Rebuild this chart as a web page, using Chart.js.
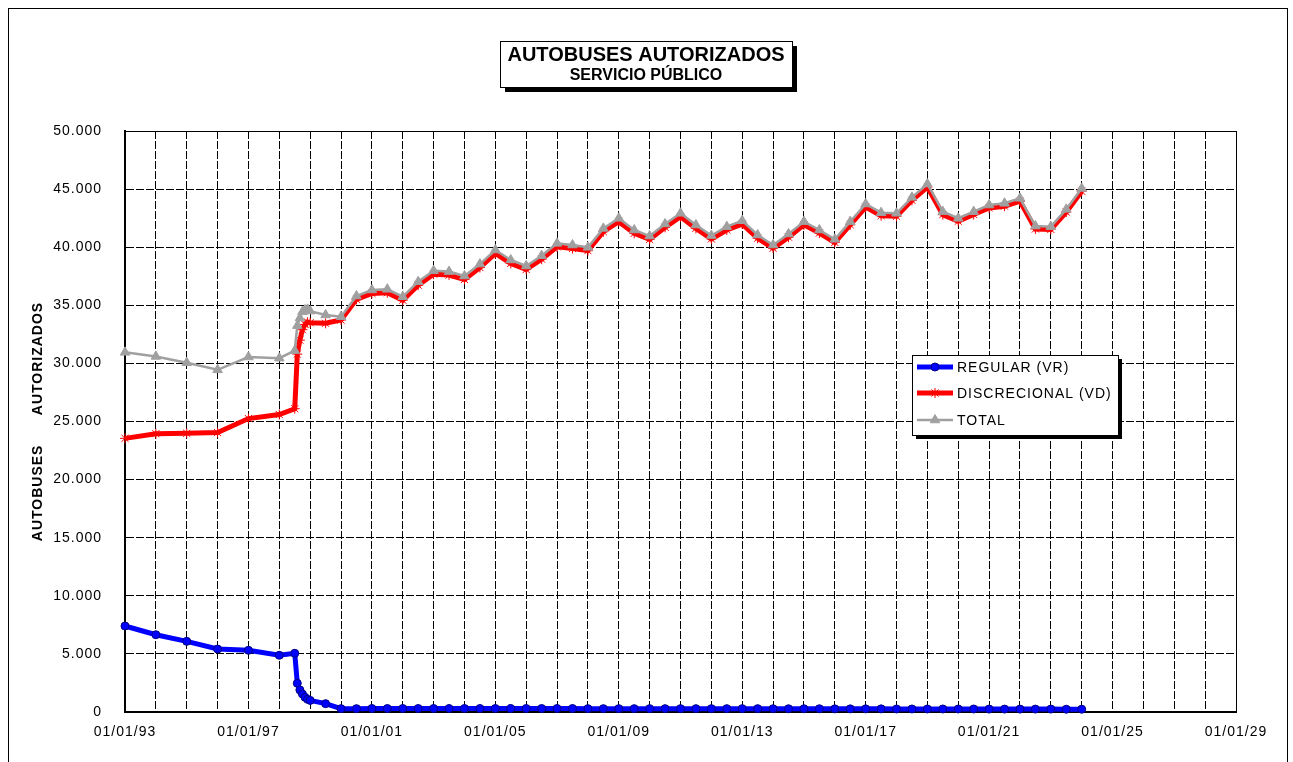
<!DOCTYPE html>
<html>
<head>
<meta charset="utf-8">
<title>Autobuses autorizados - servicio público</title>
<script src="https://cdn.jsdelivr.net/npm/chart.js"></script>
<style>
  body { margin: 0; background: #fff; }
  #wrap { width: 1293px; height: 762px; }
</style>
</head>
<body>
<div id="wrap"><canvas id="autobuses-chart" width="1293" height="762"></canvas></div>
<script>
// fechas de cada dato (dd/mm/aa)
var fechas = [
  "01/01/93", "01/01/94", "01/01/95", "01/01/96", "01/01/97", "01/01/98",
  "01/07/98", "01/08/98", "01/09/98", "01/10/98", "01/11/98", "01/12/98",
  "01/01/99", "01/07/99", "01/01/00", "01/07/00", "01/01/01", "01/07/01",
  "01/01/02", "01/07/02", "01/01/03", "01/07/03", "01/01/04", "01/07/04",
  "01/01/05", "01/07/05", "01/01/06", "01/07/06", "01/01/07", "01/07/07",
  "01/01/08", "01/07/08", "01/01/09", "01/07/09", "01/01/10", "01/07/10",
  "01/01/11", "01/07/11", "01/01/12", "01/07/12", "01/01/13", "01/07/13",
  "01/01/14", "01/07/14", "01/01/15", "01/07/15", "01/01/16", "01/07/16",
  "01/01/17", "01/07/17", "01/01/18", "01/07/18", "01/01/19", "01/07/19",
  "01/01/20", "01/07/20", "01/01/21", "01/07/21", "01/01/22", "01/07/22",
  "01/01/23", "01/07/23", "01/01/24"
];

var regular = [
  7400, 6650, 6080, 5420, 5310, 4880,
  5050, 2470, 1900, 1550, 1260, 1090,
  1000, 720, 290, 290, 300, 300,
  300, 300, 300, 300, 300, 300,
  300, 300, 300, 300, 300, 300,
  290, 290, 290, 290, 290, 290,
  290, 290, 290, 290, 290, 290,
  280, 280, 280, 280, 270, 270,
  270, 270, 260, 260, 260, 260,
  260, 260, 250, 250, 250, 250,
  250, 240, 240
];

var discrecional = [
  23550, 23950, 23980, 24050, 25250, 25600,
  26100, 30800, 32000, 32900, 33350, 33550,
  33500, 33450, 33730, 35510, 36020, 36080,
  35440, 36730, 37680, 37600, 37220, 38250,
  39460, 38600, 38080, 38970, 40030, 39890,
  39700, 41330, 42200, 41190, 40670, 41710,
  42630, 41620, 40710, 41480, 41990, 40770,
  39910, 40860, 41920, 41210, 40410, 41930,
  43450, 42710, 42660, 44030, 45180, 42800,
  42230, 42810, 43380, 43530, 43960, 41570,
  41530, 43020, 44820
];

var total = [
  30950, 30600, 30060, 29450, 30550, 30450,
  31100, 33250, 33900, 34450, 34600, 34650,
  34500, 34170, 34020, 35800, 36320, 36380,
  35740, 37030, 37980, 37900, 37520, 38550,
  39760, 38900, 38380, 39270, 40330, 40190,
  39990, 41620, 42490, 41480, 40960, 42000,
  42920, 41910, 41000, 41770, 42280, 41050,
  40190, 41140, 42200, 41480, 40680, 42200,
  43720, 42970, 42920, 44290, 45440, 43060,
  42490, 43060, 43630, 43780, 44210, 41820,
  41770, 43260, 45060
];

var titulo = "AUTOBUSES AUTORIZADOS";
var subtitulo = "SERVICIO PÚBLICO";
var tituloEjeY = "AUTOBUSES      AUTORIZADOS";
var primerAnio = 1993;
var ultimoAnio = 2029;

var fuente = '"Liberation Sans", Arial, sans-serif';

// "01/07/98" -> 1998.5
function fechaAnio(f) {
  var p = f.split("/");
  var aa = Number(p[2]);
  var anio = aa > 50 ? 1900 + aa : 2000 + aa;
  return anio + (Number(p[1]) - 1) / 12;
}

function puntos(valores) {
  return fechas.map(function (f, i) {
    return { x: fechaAnio(f), y: valores[i] };
  });
}

function miles(v) {
  return String(v).replace(/\B(?=(\d{3})+(?!\d))/g, ".");
}

var series = [
  {
    label: "REGULAR (VR)",
    data: puntos(regular),
    borderColor: "#0000FF",
    backgroundColor: "#0000FF",
    borderWidth: 5,
    pointStyle: "circle",
    pointRadius: 4,
    pointBackgroundColor: "#0000FF",
    pointBorderColor: "#000080",
    pointBorderWidth: 1,
    order: 2
  },
  {
    label: "DISCRECIONAL (VD)",
    data: puntos(discrecional),
    borderColor: "#FF0000",
    backgroundColor: "#FF0000",
    borderWidth: 5,
    pointStyle: "star",
    pointRadius: 5,
    pointBorderColor: "#FF0000",
    pointBorderWidth: 1,
    order: 1
  },
  {
    label: "TOTAL",
    data: puntos(total),
    borderColor: "#A0A0A0",
    backgroundColor: "#A0A0A0",
    borderWidth: 2.5,
    pointStyle: "triangle",
    pointRadius: 5.5,
    pointBackgroundColor: "#A0A0A0",
    pointBorderColor: "#A0A0A0",
    pointBorderWidth: 1,
    order: 0
  }
];

// marco exterior, recuadro del título y leyenda al estilo Excel
var excelPlugin = {
  id: "excel",
  beforeDraw: function (chart) {
    var ctx = chart.ctx;
    ctx.save();
    ctx.fillStyle = "#fff";
    ctx.fillRect(0, 0, chart.width, chart.height);
    ctx.restore();
    ctx.letterSpacing = "1px";
  },
  beforeDatasetsDraw: function (chart) {
    var a = chart.chartArea;
    var ctx = chart.ctx;
    ctx.save();
    ctx.strokeStyle = "#000";
    ctx.lineWidth = 1;
    ctx.beginPath();
    ctx.moveTo(Math.round(a.left), Math.round(a.top) + 0.5);
    ctx.lineTo(Math.round(a.right) + 0.5, Math.round(a.top) + 0.5);
    ctx.lineTo(Math.round(a.right) + 0.5, Math.round(a.bottom));
    ctx.stroke();
    ctx.restore();
  },
  afterDraw: function (chart) {
    var ctx = chart.ctx;
    ctx.save();
    ctx.strokeStyle = "#000";
    ctx.lineWidth = 1;
    ctx.strokeRect(8.5, 8.5, 1279, 800);

    // título
    ctx.fillStyle = "#000";
    ctx.fillRect(505, 46, 292, 46);
    ctx.fillStyle = "#fff";
    ctx.fillRect(500, 41, 292, 46);
    ctx.strokeRect(500.5, 41.5, 292, 46);
    ctx.letterSpacing = "0px";
    ctx.fillStyle = "#000";
    ctx.textAlign = "center";
    ctx.textBaseline = "middle";
    ctx.font = "bold 20px " + fuente;
    ctx.fillText(titulo, 646, 55);
    ctx.font = "bold 16px " + fuente;
    ctx.fillText(subtitulo, 646, 76);

    // leyenda
    var lx = 912, ly = 355, lw = 206, lh = 80;
    ctx.fillStyle = "#000";
    ctx.fillRect(lx + 4, ly + 4, lw, lh);
    ctx.fillStyle = "#fff";
    ctx.fillRect(lx, ly, lw, lh);
    ctx.strokeRect(lx + 0.5, ly + 0.5, lw, lh);
    var filas = [367, 393, 420];
    series.forEach(function (s, i) {
      var y = filas[i];
      ctx.strokeStyle = s.borderColor;
      ctx.lineWidth = s.borderWidth;
      ctx.beginPath();
      ctx.moveTo(917, y);
      ctx.lineTo(953, y);
      ctx.stroke();
      ctx.fillStyle = s.pointBackgroundColor || s.borderColor;
      ctx.strokeStyle = s.pointBorderColor;
      ctx.lineWidth = s.pointBorderWidth;
      Chart.helpers.drawPoint(ctx, {
        pointStyle: s.pointStyle,
        radius: s.pointRadius,
        borderWidth: s.pointBorderWidth,
        rotation: 0
      }, 935, y);
      ctx.letterSpacing = "1px";
      ctx.fillStyle = "#000";
      ctx.textAlign = "left";
      ctx.textBaseline = "middle";
      ctx.font = "14px " + fuente;
      ctx.fillText(s.label, 957, y + 1);
    });
    ctx.restore();
  }
};

new Chart(document.getElementById("autobuses-chart"), {
  type: "line",
  data: { datasets: series },
  plugins: [excelPlugin],
  options: {
    responsive: false,
    devicePixelRatio: 1,
    animation: false,
    elements: { line: { tension: 0 } },
    datasets: { line: { clip: false } },
    layout: { padding: { top: 131, right: 57, bottom: 0, left: 0 } },
    plugins: {
      legend: { display: false },
      title: { display: false },
      tooltip: { enabled: false }
    },
    scales: {
      x: {
        type: "linear",
        min: primerAnio,
        max: ultimoAnio,
        afterBuildTicks: function (scale) {
          var t = [];
          for (var a = primerAnio; a <= ultimoAnio; a++) t.push({ value: a });
          scale.ticks = t;
        },
        afterFit: function (scale) { scale.height = 50; },
        ticks: {
          autoSkip: false,
          maxRotation: 0,
          padding: 12,
          color: "#000",
          font: { family: fuente, size: 14 },
          callback: function (v) {
            var a = Math.round(v);
            if ((a - primerAnio) % 4 !== 0) return "";
            return "01/01/" + String(a % 100).padStart(2, "0");
          }
        },
        grid: { color: "#000", lineWidth: 1, drawTicks: false },
        border: { color: "#000", width: 2, dash: [8, 2] }
      },
      y: {
        min: 0,
        max: 50000,
        afterFit: function (scale) { scale.width = 125; },
        ticks: {
          stepSize: 5000,
          padding: 23,
          color: "#000",
          font: { family: fuente, size: 14 },
          callback: function (v) { return miles(v); }
        },
        grid: { color: "#000", lineWidth: 1, drawTicks: false },
        border: { color: "#000", width: 2, dash: [8, 2] },
        title: {
          display: true,
          text: tituloEjeY,
          color: "#000",
          font: { family: fuente, size: 14, weight: "bold" },
          padding: { top: 30, bottom: 0 }
        }
      }
    }
  }
});
</script>
</body>
</html>
